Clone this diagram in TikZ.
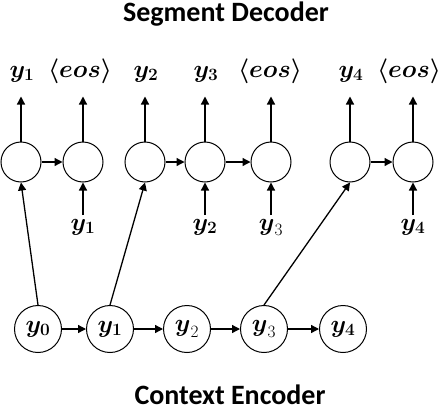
\documentclass[tikz,border=0pt]{standalone}
\usepackage{fontspec}
\usepackage{amsmath}
\newfontfamily\titlefont{Carlito}
\usetikzlibrary{arrows.meta}
\tikzset{
  dec/.style={circle, draw, line width=1pt, minimum size=40pt, inner sep=0pt},
  enc/.style={circle, draw, line width=1pt, minimum size=47pt, inner sep=0pt, font=\fontsize{25}{28}\selectfont},
  lbl/.style={inner sep=0pt, anchor=base, font=\fontsize{25}{28}\selectfont},
  ttl/.style={inner sep=0pt, anchor=base, font=\titlefont\bfseries\fontsize{28}{32}\selectfont},
  arr/.style={line width=1.3pt, -{Triangle[length=8pt,width=8pt]}}
}
\begin{document}
\begin{tikzpicture}[x=1pt,y=-1pt]
\useasboundingbox (0,0) rectangle (442,410);
\node[ttl] (t1) at (226,21) {Segment Decoder};
\node[ttl] (t2) at (230,404) {Context Encoder};
% decoder
\node[dec] (d1) at (21,162) {};
\node[dec] (d2) at (83,162) {};
\node[dec] (d3) at (145,162) {};
\node[dec] (d4) at (205,162) {};
\node[dec] (d5) at (271,162) {};
\node[dec] (d6) at (350,162) {};
\node[dec] (d7) at (413,162) {};
% outputs
\node[lbl] (o1) at (22,77) {$\boldsymbol{y_1}$};
\node[lbl] (o2) at (80,77) {$\boldsymbol{\langle eos\rangle}$};
\node[lbl] (o3) at (146,77) {$\boldsymbol{y_2}$};
\node[lbl] (o4) at (206,77) {$\boldsymbol{y_3}$};
\node[lbl] (o5) at (270,77) {$\boldsymbol{\langle eos\rangle}$};
\node[lbl] (o6) at (351,77) {$\boldsymbol{y_4}$};
\node[lbl] (o7) at (409,77) {$\boldsymbol{\langle eos\rangle}$};
\foreach \i in {1,...,7} {
  \coordinate (u\i) at ([yshift=45pt]d\i.north);
  \draw[arr] (d\i.north) -- (u\i);
}
% inputs
\node[lbl] (i2) at (83,230) {$\boldsymbol{y_1}$};
\node[lbl] (i3) at (205,230) {$\boldsymbol{y_2}$};
\node[lbl] (i4) at (271,230) {$\boldsymbol{y}_3$};
\node[lbl] (i7) at (413,230) {$\boldsymbol{y_4}$};
\foreach \a/\b in {i2/d2, i3/d4, i4/d5, i7/d7} {
  \coordinate (s\a) at (\b.center |- 0,215);
  \draw[arr] (s\a) -- (\b.south);
}
% decoder horizontal
\draw[arr] (d1) -- (d2);
\draw[arr] (d3) -- (d4);
\draw[arr] (d4) -- (d5);
\draw[arr] (d6) -- (d7);
% encoder
\node[enc] (e0) at (38,329) {$\boldsymbol{y_0}$};
\node[enc] (e1) at (110,329) {$\boldsymbol{y_1}$};
\node[enc] (e2) at (187,329) {$\boldsymbol{y}_2$};
\node[enc] (e3) at (264,329) {$\boldsymbol{y}_3$};
\node[enc] (e4) at (343,329) {$\boldsymbol{y_4}$};
\draw[arr] (e0) -- (e1);
\draw[arr] (e1) -- (e2);
\draw[arr] (e2) -- (e3);
\draw[arr] (e3) -- (e4);
% diagonals
\draw[arr] (e0.north) -- (d1.south);
\draw[arr] (e1.north) -- (d3.south);
\draw[arr] (e3.north) -- (d6.south);
\end{tikzpicture}
\end{document}
